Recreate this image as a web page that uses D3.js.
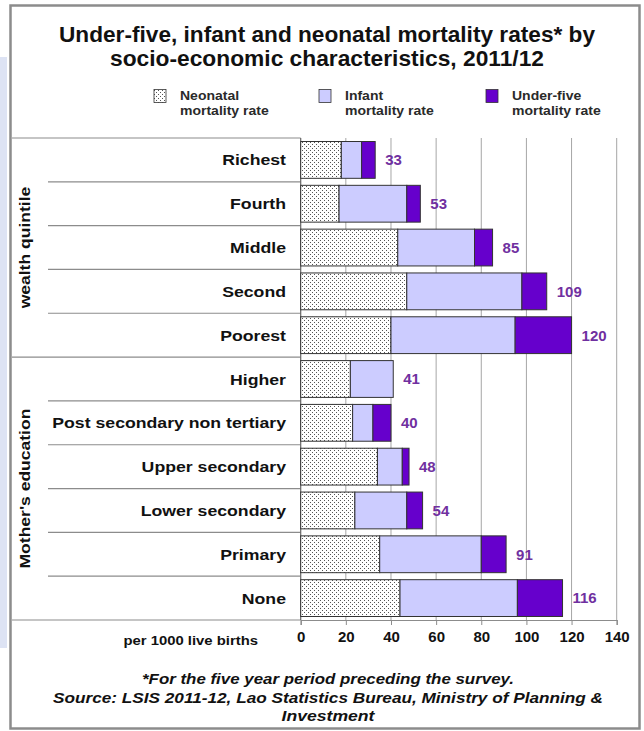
<!DOCTYPE html>
<html><head><meta charset="utf-8">
<script src="https://cdn.jsdelivr.net/npm/d3@7"></script>
<style>
html,body{margin:0;padding:0;background:#fff;}
svg{display:block;font-family:"Liberation Sans",Arial,sans-serif;}
</style></head>
<body><svg id="c" width="644" height="731"></svg>
<script>
const categories = ["Richest","Fourth","Middle","Second","Poorest","Higher","Post secondary non tertiary","Upper secondary","Lower secondary","Primary","None"];
const groupNames = ["wealth quintile","Mother's education"];
const groupSizes = [5,6];
const neonatal = [18,17,43,47,40,22,23,34,24,35,44];
const infant = [27,47,77,98,95,41,32,45,47,80,96];
const underFive = [33,53,85,109,120,41,40,48,54,91,116];
const xTicks = [0,20,40,60,80,100,120,140];
const seriesNames = [["Neonatal","mortality rate"],["Infant","mortality rate"],["Under-five","mortality rate"]];
const titleLines = ["Under-five, infant and neonatal mortality rates* by","socio-economic characteristics, 2011/12"];
const footLines = ["*For the five year period preceding the survey.","Source: LSIS 2011-12, Lao Statistics Bureau, Ministry of Planning &","Investment"];

(function(){
const svg = d3.select("#c");
const INF = "#ccccff", U5 = "#6600cc", LBL = "#7030a0", TXT = "#111";

const defs = svg.append("defs");
const pat = defs.append("pattern").attr("id","dots").attr("patternUnits","userSpaceOnUse")
  .attr("width",4).attr("height",4);
pat.append("rect").attr("width",4).attr("height",4).attr("fill","#fff");
pat.append("rect").attr("x",0).attr("y",0).attr("width",1).attr("height",1).attr("fill","#555");
pat.append("rect").attr("x",2).attr("y",2).attr("width",1).attr("height",1).attr("fill","#555");

function stretch(sel,k){ sel.each(function(){ const w=this.getComputedTextLength(); d3.select(this).attr("textLength",w*k).attr("lengthAdjust","spacingAndGlyphs");}); return sel; }

// side strip and frame
svg.append("rect").attr("x",0).attr("y",57).attr("width",7).attr("height",591).attr("fill","#dde3f4");
svg.append("rect").attr("x",10.5).attr("y",5.5).attr("width",629).attr("height",723)
  .attr("fill","#fff").attr("stroke","#8c8c8c").attr("stroke-width",2.5);

// title
svg.selectAll("text.title").data(titleLines).join("text").attr("class","title")
  .attr("x",327).attr("y",(d,i)=>42+i*24).attr("text-anchor","middle")
  .attr("font-size",21.5).attr("font-weight","bold").attr("fill",TXT).text(d=>d)
  .attr("textLength",(d,i)=>[536,434][i]).attr("lengthAdjust","spacingAndGlyphs");

// legend
const legX = [154,319,486];
const legFill = ["url(#dots)",INF,U5];
const lg = svg.append("g");
seriesNames.forEach((s,i)=>{
  lg.append("rect").attr("x",legX[i]).attr("y",89.5).attr("width",12).attr("height",13)
    .attr("fill",legFill[i]).attr("stroke","#333").attr("stroke-width",0.8);
  s.forEach((t,j)=>{
    const tt = lg.append("text").attr("x",legX[i]+26).attr("y",100+j*14.5).attr("font-size",12.5)
      .attr("font-weight","bold").attr("fill","#2a2a2a").text(t);
    stretch(tt,1.12);
  });
});

// scales
const pTop=138, pBottom=620, pLeft=300.7;
const x = d3.scaleLinear().domain([0,140]).range([pLeft,616.7]);
const y = d3.scaleBand().domain(categories).range([pTop,pBottom]).paddingInner(0.16).paddingOuter(0.08);
const step = (pBottom-pTop)/categories.length;

// gridlines
svg.append("g").selectAll("line").data(xTicks.filter(t=>t>0)).join("line")
  .attr("x1",d=>x(d)).attr("x2",d=>x(d)).attr("y1",pTop).attr("y2",pBottom)
  .attr("stroke","#a6a6a6").attr("stroke-width",1);

// table lines
const tl = svg.append("g").attr("stroke","#8c8c8c").attr("stroke-width",1.2);
let cum=0; const groupBounds=[0];
groupSizes.forEach(n=>{cum+=n; groupBounds.push(cum);});
d3.range(categories.length+1).forEach(i=>{
  const yy = pTop + i*step;
  const full = groupBounds.includes(i);
  tl.append("line").attr("x1",full?12:48).attr("x2",pLeft).attr("y1",yy).attr("y2",yy);
});
svg.append("line").attr("x1",pLeft).attr("x2",pLeft).attr("y1",pTop).attr("y2",pBottom).attr("stroke","#666").attr("stroke-width",1.2);

// bars
const rows = categories.map((c,i)=>({c, segs:[[0,neonatal[i]],[neonatal[i],infant[i]],[infant[i],underFive[i]]], u:underFive[i]}));
const bg = svg.append("g");
rows.forEach(r=>{
  r.segs.forEach((s,k)=>{
    if (s[1]-s[0] <= 0) return;
    bg.append("rect").attr("x",x(s[0])).attr("y",y(r.c)).attr("width",x(s[1])-x(s[0])).attr("height",y.bandwidth())
      .attr("fill",legFill[k]).attr("stroke","#333").attr("stroke-width",1);
  });
});
bg.selectAll("text").data(rows).join("text")
  .attr("x",d=>x(d.u)+10).attr("y",d=>y(d.c)+y.bandwidth()/2).attr("dy","0.36em")
  .attr("font-size",15).attr("font-weight","bold").attr("fill",LBL).text(d=>d.u);

// category labels
const cl = svg.append("g").selectAll("text").data(categories).join("text")
  .attr("x",286).attr("y",d=>y(d)+y.bandwidth()/2).attr("dy","0.36em").attr("text-anchor","end")
  .attr("font-size",15.5).attr("font-weight","bold").attr("fill",TXT).text(d=>d);
stretch(cl,1.14);

// group labels
const gl = svg.append("g").selectAll("text").data(groupNames).join("text")
  .attr("transform",(d,i)=>{const yc=pTop+(groupBounds[i]+groupBounds[i+1])/2*step; return `translate(30,${yc}) rotate(-90)`;})
  .attr("text-anchor","middle").attr("font-size",15.5).attr("font-weight","bold").attr("fill",TXT).text(d=>d);
stretch(gl,1.13);

// x axis
const ax = svg.append("g").attr("transform",`translate(0,${pBottom})`)
  .call(d3.axisBottom(x).tickValues(xTicks).tickSize(5).tickPadding(6).tickFormat(d3.format("d")));
ax.select(".domain").attr("stroke","#8c8c8c").attr("stroke-width",1.2);
ax.selectAll(".tick line").attr("stroke","#8c8c8c");
ax.selectAll(".tick text").attr("font-size",15).attr("font-weight","bold").attr("fill",TXT)
  .attr("font-family","Liberation Sans, Arial, sans-serif");

const unit = svg.append("text").attr("x",258).attr("y",645).attr("text-anchor","end")
  .attr("font-size",13.5).attr("font-weight","bold").attr("fill",TXT).text("per 1000 live births");
stretch(unit,1.1);

// footer
svg.selectAll("text.foot").data(footLines).join("text").attr("class","foot")
  .attr("x",328).attr("y",(d,i)=>684+i*18.5).attr("text-anchor","middle")
  .attr("font-size",15).attr("font-weight","bold").attr("font-style","italic").attr("fill",TXT).text(d=>d)
  .attr("textLength",(d,i)=>[372,550,93][i]).attr("lengthAdjust","spacingAndGlyphs");
})();
</script></body></html>
